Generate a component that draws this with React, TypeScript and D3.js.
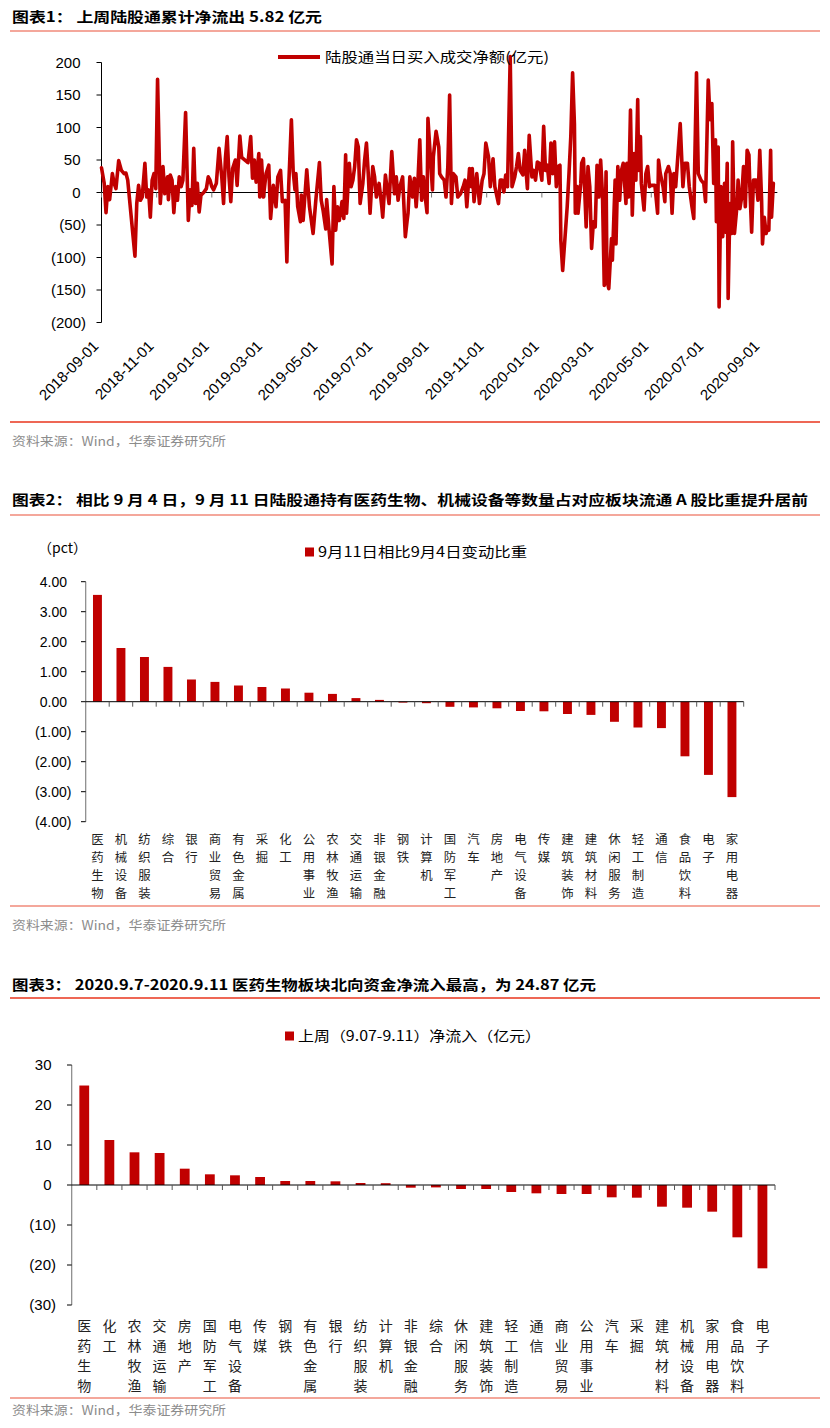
import React from 'react';
import * as d3 from 'd3';

// ---------- Chart 1 data ----------
const flowDates = [
  '2018-09-01','2018-09-04','2018-09-06','2018-09-08','2018-09-10','2018-09-13','2018-09-15','2018-09-17','2018-09-20','2018-09-23','2018-09-26','2018-09-28','2018-09-30',
  '2018-10-08','2018-10-10','2018-10-12','2018-10-14','2018-10-16','2018-10-19','2018-10-21','2018-10-23','2018-10-25','2018-10-27','2018-10-29','2018-10-31',
  '2018-11-02','2018-11-05','2018-11-08','2018-11-10','2018-11-13','2018-11-14','2018-11-16','2018-11-18','2018-11-20','2018-11-22','2018-11-24','2018-11-26','2018-11-28','2018-11-30',
  '2018-12-03','2018-12-06','2018-12-08','2018-12-10','2018-12-12','2018-12-14','2018-12-16','2018-12-18','2018-12-20','2018-12-23','2018-12-26','2018-12-28','2018-12-30',
  '2019-01-01','2019-01-03','2019-01-06','2019-01-09','2019-01-12','2019-01-14','2019-01-16','2019-01-18','2019-01-20','2019-01-22','2019-01-24','2019-01-27','2019-01-29',
  '2019-02-01','2019-02-03','2019-02-09','2019-02-10','2019-02-13','2019-02-15','2019-02-17','2019-02-19','2019-02-22','2019-02-23','2019-02-25','2019-02-27',
  '2019-03-02','2019-03-05','2019-03-07','2019-03-10','2019-03-13','2019-03-15','2019-03-18','2019-03-20','2019-03-23','2019-03-25','2019-03-27','2019-03-30',
  '2019-04-01','2019-04-03','2019-04-04','2019-04-06','2019-04-09','2019-04-10','2019-04-12','2019-04-14','2019-04-16','2019-04-19','2019-04-23','2019-04-26','2019-04-30',
  '2019-05-02','2019-05-04','2019-05-07','2019-05-08','2019-05-11','2019-05-14','2019-05-16','2019-05-18','2019-05-20','2019-05-22','2019-05-25','2019-05-27','2019-05-29','2019-05-30',
  '2019-06-02','2019-06-04','2019-06-06','2019-06-08','2019-06-10','2019-06-12','2019-06-14','2019-06-17','2019-06-19','2019-06-21','2019-06-23','2019-06-25','2019-06-28','2019-06-30',
  '2019-07-02','2019-07-05','2019-07-08','2019-07-09','2019-07-12','2019-07-14','2019-07-16','2019-07-19','2019-07-22','2019-07-24','2019-07-26','2019-07-28','2019-07-31',
  '2019-08-03','2019-08-05','2019-08-06','2019-08-08','2019-08-11','2019-08-13','2019-08-15','2019-08-17','2019-08-19','2019-08-21','2019-08-23','2019-08-25','2019-08-27','2019-08-28','2019-08-30',
  '2019-09-02','2019-09-03','2019-09-06','2019-09-09','2019-09-10','2019-09-12','2019-09-15','2019-09-17','2019-09-19','2019-09-21','2019-09-23','2019-09-25','2019-09-28','2019-09-30',
  '2019-10-03','2019-10-06','2019-10-08','2019-10-10','2019-10-13','2019-10-15','2019-10-16','2019-10-18','2019-10-21','2019-10-24','2019-10-27','2019-10-29','2019-10-31',
  '2019-11-03','2019-11-05','2019-11-08','2019-11-10','2019-11-14','2019-11-16','2019-11-18','2019-11-20','2019-11-22','2019-11-24','2019-11-27','2019-11-29',
  '2019-12-02','2019-12-04','2019-12-06','2019-12-08','2019-12-11','2019-12-13','2019-12-15','2019-12-16','2019-12-18','2019-12-21','2019-12-23','2019-12-25','2019-12-27','2019-12-29',
  '2020-01-01','2020-01-03','2020-01-05','2020-01-07','2020-01-09','2020-01-11','2020-01-13','2020-01-15','2020-01-17','2020-01-19','2020-01-21','2020-01-22','2020-01-24','2020-01-29','2020-01-31',
  '2020-02-02','2020-02-04','2020-02-06','2020-02-07','2020-02-09','2020-02-10','2020-02-13','2020-02-14','2020-02-16','2020-02-19','2020-02-21','2020-02-23','2020-02-25','2020-02-27','2020-02-29',
  '2020-03-02','2020-03-04','2020-03-06','2020-03-08','2020-03-10','2020-03-12','2020-03-13','2020-03-15','2020-03-18','2020-03-19','2020-03-22','2020-03-23','2020-03-25','2020-03-27','2020-03-29','2020-03-31',
  '2020-04-03','2020-04-04','2020-04-06','2020-04-08','2020-04-10','2020-04-12','2020-04-14','2020-04-16','2020-04-17','2020-04-19','2020-04-20','2020-04-23','2020-04-25','2020-04-27','2020-04-29',
  '2020-05-01','2020-05-05','2020-05-08','2020-05-09','2020-05-11','2020-05-14','2020-05-16','2020-05-17','2020-05-20','2020-05-22','2020-05-24','2020-05-26','2020-05-28','2020-05-31',
  '2020-06-02','2020-06-05','2020-06-07','2020-06-10','2020-06-12','2020-06-15','2020-06-17','2020-06-18','2020-06-20','2020-06-22','2020-06-25','2020-06-28','2020-06-30',
  '2020-07-03','2020-07-05','2020-07-07','2020-07-09','2020-07-11','2020-07-12','2020-07-14','2020-07-15','2020-07-17','2020-07-19','2020-07-21','2020-07-22','2020-07-24','2020-07-25','2020-07-27','2020-07-29','2020-07-30',
  '2020-08-01','2020-08-04','2020-08-05','2020-08-07','2020-08-09','2020-08-11','2020-08-13','2020-08-15','2020-08-17','2020-08-18','2020-08-20','2020-08-22','2020-08-25','2020-08-27','2020-08-29','2020-08-31',
  '2020-09-01','2020-09-03','2020-09-05','2020-09-07','2020-09-08','2020-09-10','2020-09-11','2020-09-13',
];
const flowValues = [
  38,14,-31,9,-11,29,14,6,49,34,29,30,19,
  -98,-17,11,-12,-7,45,-7,4,-38,19,29,6,
  174,-17,40,-2,24,-11,27,19,-31,9,-12,24,9,19,
  123,-43,4,-20,68,-17,14,-30,-4,0,6,24,19,
  9,4,14,68,24,-17,52,86,24,-14,37,50,11,
  87,54,47,46,86,22,50,16,60,-7,50,-7,
  29,42,-40,11,-22,24,34,-14,-12,-107,9,112,
  32,4,29,-22,-45,-4,-43,-4,35,-22,-63,-12,46,
  -12,-27,-56,-11,-63,-110,9,-58,-22,-43,-14,-40,58,-32,
  45,9,19,40,81,70,-17,14,50,76,29,-32,40,24,
  -7,14,-22,-38,27,4,-17,63,-2,24,-12,9,24,
  -68,-43,-32,24,-7,22,-22,19,81,-12,24,-7,-31,114,70,
  4,55,94,70,29,24,19,-7,40,150,-17,29,24,-7,
  -2,9,19,-22,37,9,37,-14,29,-17,19,29,76,
  55,9,52,9,-17,19,19,1,27,9,209,9,
  24,40,60,34,27,65,24,6,88,24,34,19,47,45,
  19,102,34,42,14,76,29,78,9,40,42,-74,-120,-22,29,
  86,184,106,-32,9,-32,14,45,52,-53,40,9,-86,-45,-53,
  42,-7,50,-2,-143,32,-135,-148,-71,-104,19,-79,40,-12,34,45,
  -17,45,-7,127,-35,60,19,143,34,86,14,-27,29,40,9,
  11,11,-32,50,29,9,-14,29,40,29,-32,29,9,68,
  106,9,45,45,9,-22,-40,40,184,29,19,14,-14,
  173,112,137,14,81,-45,70,-176,9,-68,14,-61,45,-163,-17,-63,78,
  -63,-17,19,-25,-7,40,-22,65,58,9,-61,19,19,-12,65,-12,
  -79,-38,-63,-53,-58,65,-38,14,
];
const dateTicks = ['2018-09-01','2018-11-01','2019-01-01','2019-03-01','2019-05-01','2019-07-01','2019-09-01','2019-11-01','2020-01-01','2020-03-01','2020-05-01','2020-07-01','2020-09-01'];
const axis1Ticks = [200, 150, 100, 50, 0, -50, -100, -150, -200];

// ---------- Chart 2 data ----------
const cats2 = ['医药生物','机械设备','纺织服装','综合','银行','商业贸易','有色金属','采掘','化工','公用事业','农林牧渔','交通运输','非银金融','钢铁','计算机','国防军工','汽车','房地产','电气设备','传媒','建筑装饰','建筑材料','休闲服务','轻工制造','通信','食品饮料','电子','家用电器'];
const vals2 = [3.56,1.79,1.49,1.16,0.74,0.66,0.54,0.49,0.44,0.30,0.26,0.12,0.06,-0.03,-0.05,-0.17,-0.19,-0.22,-0.31,-0.32,-0.41,-0.44,-0.67,-0.86,-0.88,-1.82,-2.44,-3.18];
const axis2Ticks = [4, 3, 2, 1, 0, -1, -2, -3, -4];

// ---------- Chart 3 data ----------
const cats3 = ['医药生物','化工','农林牧渔','交通运输','房地产','国防军工','电气设备','传媒','钢铁','有色金属','银行','纺织服装','计算机','非银金融','综合','休闲服务','建筑装饰','轻工制造','通信','商业贸易','公用事业','汽车','采掘','建筑材料','机械设备','家用电器','食品饮料','电子'];
const vals3 = [24.87,11.25,8.17,8.0,4.08,2.67,2.42,2.0,1.0,1.0,0.92,0.5,0.45,-0.67,-0.6,-1.0,-1.0,-1.75,-2.08,-2.25,-2.25,-3.08,-3.17,-5.42,-5.67,-6.67,-13.08,-20.83];
const axis3Ticks = [30, 20, 10, 0, -10, -20, -30];

const RED = '#c00000';
const LATIN = "'Liberation Sans', Arial, 'Noto Sans CJK SC', sans-serif";
const CJK = "'Noto Sans CJK SC', 'Liberation Sans', sans-serif";
const SOURCE = '资料来源：Wind，华泰证券研究所';

const parse = d3.timeParse('%Y-%m-%d');

function Title({ y, text, width, lineY, lineColor }: any) {
  return (
    <g>
      <text x={12} y={y} fontFamily={CJK} fontWeight={700} fontSize={14} fill="#000" textLength={width} lengthAdjust="spacingAndGlyphs">{text}</text>
      <line x1={10} x2={820} y1={lineY} y2={lineY} stroke={lineColor} strokeWidth={1.6} />
    </g>
  );
}

function Source({ lineY, y, lineColor }: any) {
  return (
    <g>
      <line x1={10} x2={820} y1={lineY} y2={lineY} stroke={lineColor} strokeWidth={1.6} />
      <text x={12} y={y} fontFamily={CJK} fontSize={12.5} fill="#8c8c8c" textLength={214} lengthAdjust="spacingAndGlyphs">{SOURCE}</text>
    </g>
  );
}

function VerticalLabel({ x, top, text, gap, size }: any) {
  const chars = Array.from(text as string);
  return (
    <text x={x} y={top} textAnchor="middle" fontFamily={CJK} fontSize={size} fill="#222">
      {chars.map((ch, i) => (
        <tspan key={i} x={x} y={top + i * gap} dy="0.35em">{ch}</tspan>
      ))}
    </text>
  );
}

function LineChart() {
  const x = d3.scaleTime().domain([parse('2018-09-01')!, parse('2020-09-01')!]).range([101.5, 762.5]);
  const y = d3.scaleLinear().domain([-200, 200]).range([322.5, 62.5]);
  const pts = flowDates.map((d, i) => [parse(d)!, flowValues[i]] as [Date, number]);
  const path = d3.line<[Date, number]>().x(d => x(d[0])).y(d => y(d[1]))(pts) || '';
  const x0 = 101.5;
  const lastX = x(pts[pts.length - 1][0]);
  return (
    <g>
      <line x1={x0} x2={x0} y1={y(200)} y2={y(-200)} stroke="#000" strokeWidth={1} />
      {axis1Ticks.map(t => (
        <g key={t}>
          <line x1={x0 - 5} x2={x0} y1={y(t)} y2={y(t)} stroke="#000" strokeWidth={1} />
          <text x={t < 0 ? 86 : 80.5} y={y(t)} dy="0.35em" textAnchor="end" fontFamily={LATIN} fontSize={15} fill="#000">{t < 0 ? `(${-t})` : `${t}`}</text>
        </g>
      ))}
      <line x1={x0} x2={lastX + 4} y1={y(0)} y2={y(0)} stroke="#000" strokeWidth={1} />
      {dateTicks.map(d => {
        const xx = x(parse(d)!);
        return (
          <g key={d}>
            <line x1={xx} x2={xx} y1={y(0)} y2={y(0) + 5} stroke="#777" strokeWidth={1} />
            <text transform={`translate(${xx - 2},${347}) rotate(-45)`} textAnchor="end" fontFamily={LATIN} fontSize={15} fill="#000">{d}</text>
          </g>
        );
      })}
      <path d={path} fill="none" stroke={RED} strokeWidth={3.6} strokeLinejoin="round" strokeLinecap="round" />
      <line x1={278} x2={320} y1={57} y2={57} stroke={RED} strokeWidth={4} />
      <text x={325} y={62} fontFamily={CJK} fontSize={14} fill="#000" textLength={224} lengthAdjust="spacingAndGlyphs">陆股通当日买入成交净额(亿元)</text>
    </g>
  );
}

function BarChart2() {
  const x = d3.scaleBand<string>().domain(cats2).range([85.7, 743.7]).paddingInner(0.62).paddingOuter(0.31);
  const y = d3.scaleLinear().domain([-4, 4]).range([821.7, 581.7]);
  const step = x.step();
  const fmt = d3.format('.2f');
  return (
    <g>
      <text x={38} y={548} dy="0.35em" fontFamily={CJK} fontSize={14} fill="#000">（pct）</text>
      <rect x={305} y={547.5} width={9} height={9} fill={RED} />
      <text x={318} y={552} dy="0.35em" fontFamily={CJK} fontSize={14} fill="#000" textLength={209} lengthAdjust="spacingAndGlyphs">9月11日相比9月4日变动比重</text>
      <line x1={85.7} x2={85.7} y1={y(4)} y2={y(-4)} stroke="#868686" strokeWidth={1.2} />
      {axis2Ticks.map(t => (
        <g key={t}>
          <line x1={81} x2={85.7} y1={y(t)} y2={y(t)} stroke="#000" strokeWidth={1} />
          <text x={t < 0 ? 71.5 : 67} y={y(t)} dy="0.35em" textAnchor="end" fontFamily={LATIN} fontSize={14} fill="#000">{t < 0 ? `(${fmt(-t)})` : fmt(t)}</text>
        </g>
      ))}
      {cats2.map((c, i) => (
        <rect key={c} x={x(c)} y={Math.min(y(vals2[i]), y(0))} width={x.bandwidth()} height={Math.abs(y(vals2[i]) - y(0))} fill={RED} />
      ))}
      <line x1={85.7} x2={743.7} y1={y(0)} y2={y(0)} stroke="#000" strokeWidth={1} />
      {cats2.map((c, i) => (
        <line key={c} x1={85.7 + (i + 1) * step} x2={85.7 + (i + 1) * step} y1={y(0)} y2={y(0) + 5} stroke="#555" strokeWidth={1} />
      ))}
      {cats2.map(c => (
        <VerticalLabel key={c} x={x(c)! + x.bandwidth() / 2} top={840} text={c} gap={18} size={12.4} />
      ))}
    </g>
  );
}

function BarChart3() {
  const x = d3.scaleBand<string>().domain(cats3).range([71.7, 775]).paddingInner(0.61).paddingOuter(0.305);
  const y = d3.scaleLinear().domain([-30, 30]).range([1305, 1065]);
  const step = x.step();
  return (
    <g>
      <rect x={285} y={1031.5} width={9} height={9} fill={RED} />
      <text x={298} y={1036} dy="0.35em" fontFamily={CJK} fontSize={14} fill="#000" textLength={243} lengthAdjust="spacingAndGlyphs">上周（9.07-9.11）净流入（亿元）</text>
      <line x1={71.7} x2={71.7} y1={y(30)} y2={y(-30)} stroke="#868686" strokeWidth={1.2} />
      {axis3Ticks.map(t => (
        <g key={t}>
          <line x1={67} x2={71.7} y1={y(t)} y2={y(t)} stroke="#000" strokeWidth={1} />
          <text x={t < 0 ? 56 : 51.5} y={y(t)} dy="0.35em" textAnchor="end" fontFamily={LATIN} fontSize={15} fill="#000">{t < 0 ? `(${-t})` : `${t}`}</text>
        </g>
      ))}
      {cats3.map((c, i) => (
        <rect key={c} x={x(c)} y={Math.min(y(vals3[i]), y(0))} width={x.bandwidth()} height={Math.abs(y(vals3[i]) - y(0))} fill={RED} />
      ))}
      <line x1={71.7} x2={775} y1={y(0)} y2={y(0)} stroke="#000" strokeWidth={1} />
      {cats3.map((c, i) => (
        <line key={c} x1={71.7 + (i + 1) * step} x2={71.7 + (i + 1) * step} y1={y(0)} y2={y(0) + 5} stroke="#555" strokeWidth={1} />
      ))}
      {cats3.map(c => (
        <VerticalLabel key={c} x={x(c)! + x.bandwidth() / 2} top={1326} text={c} gap={20} size={14} />
      ))}
    </g>
  );
}

export default function App() {
  return (
    <svg width={830} height={1428} style={{ position: 'absolute', left: 0, top: 0, display: 'block', background: '#fff' }}>
      <rect width={830} height={1428} fill="#fff" />
      <Title y={22} text="图表1：  上周陆股通累计净流出 5.82 亿元" width={310} lineY={31} lineColor="#f08a7a" />
      <LineChart />
      <Source lineY={422} y={446} lineColor="#e8341c" />
      <Title y={505} text="图表2：  相比 9 月 4 日，9 月 11 日陆股通持有医药生物、机械设备等数量占对应板块流通 A 股比重提升居前" width={796} lineY={515} lineColor="#f08a7a" />
      <BarChart2 />
      <Source lineY={906} y={930} lineColor="#f08a7a" />
      <Title y={990} text="图表3：  2020.9.7-2020.9.11 医药生物板块北向资金净流入最高，为 24.87 亿元" width={584} lineY={998} lineColor="#e8341c" />
      <BarChart3 />
      <Source lineY={1398} y={1415} lineColor="#f08a7a" />
    </svg>
  );
}
